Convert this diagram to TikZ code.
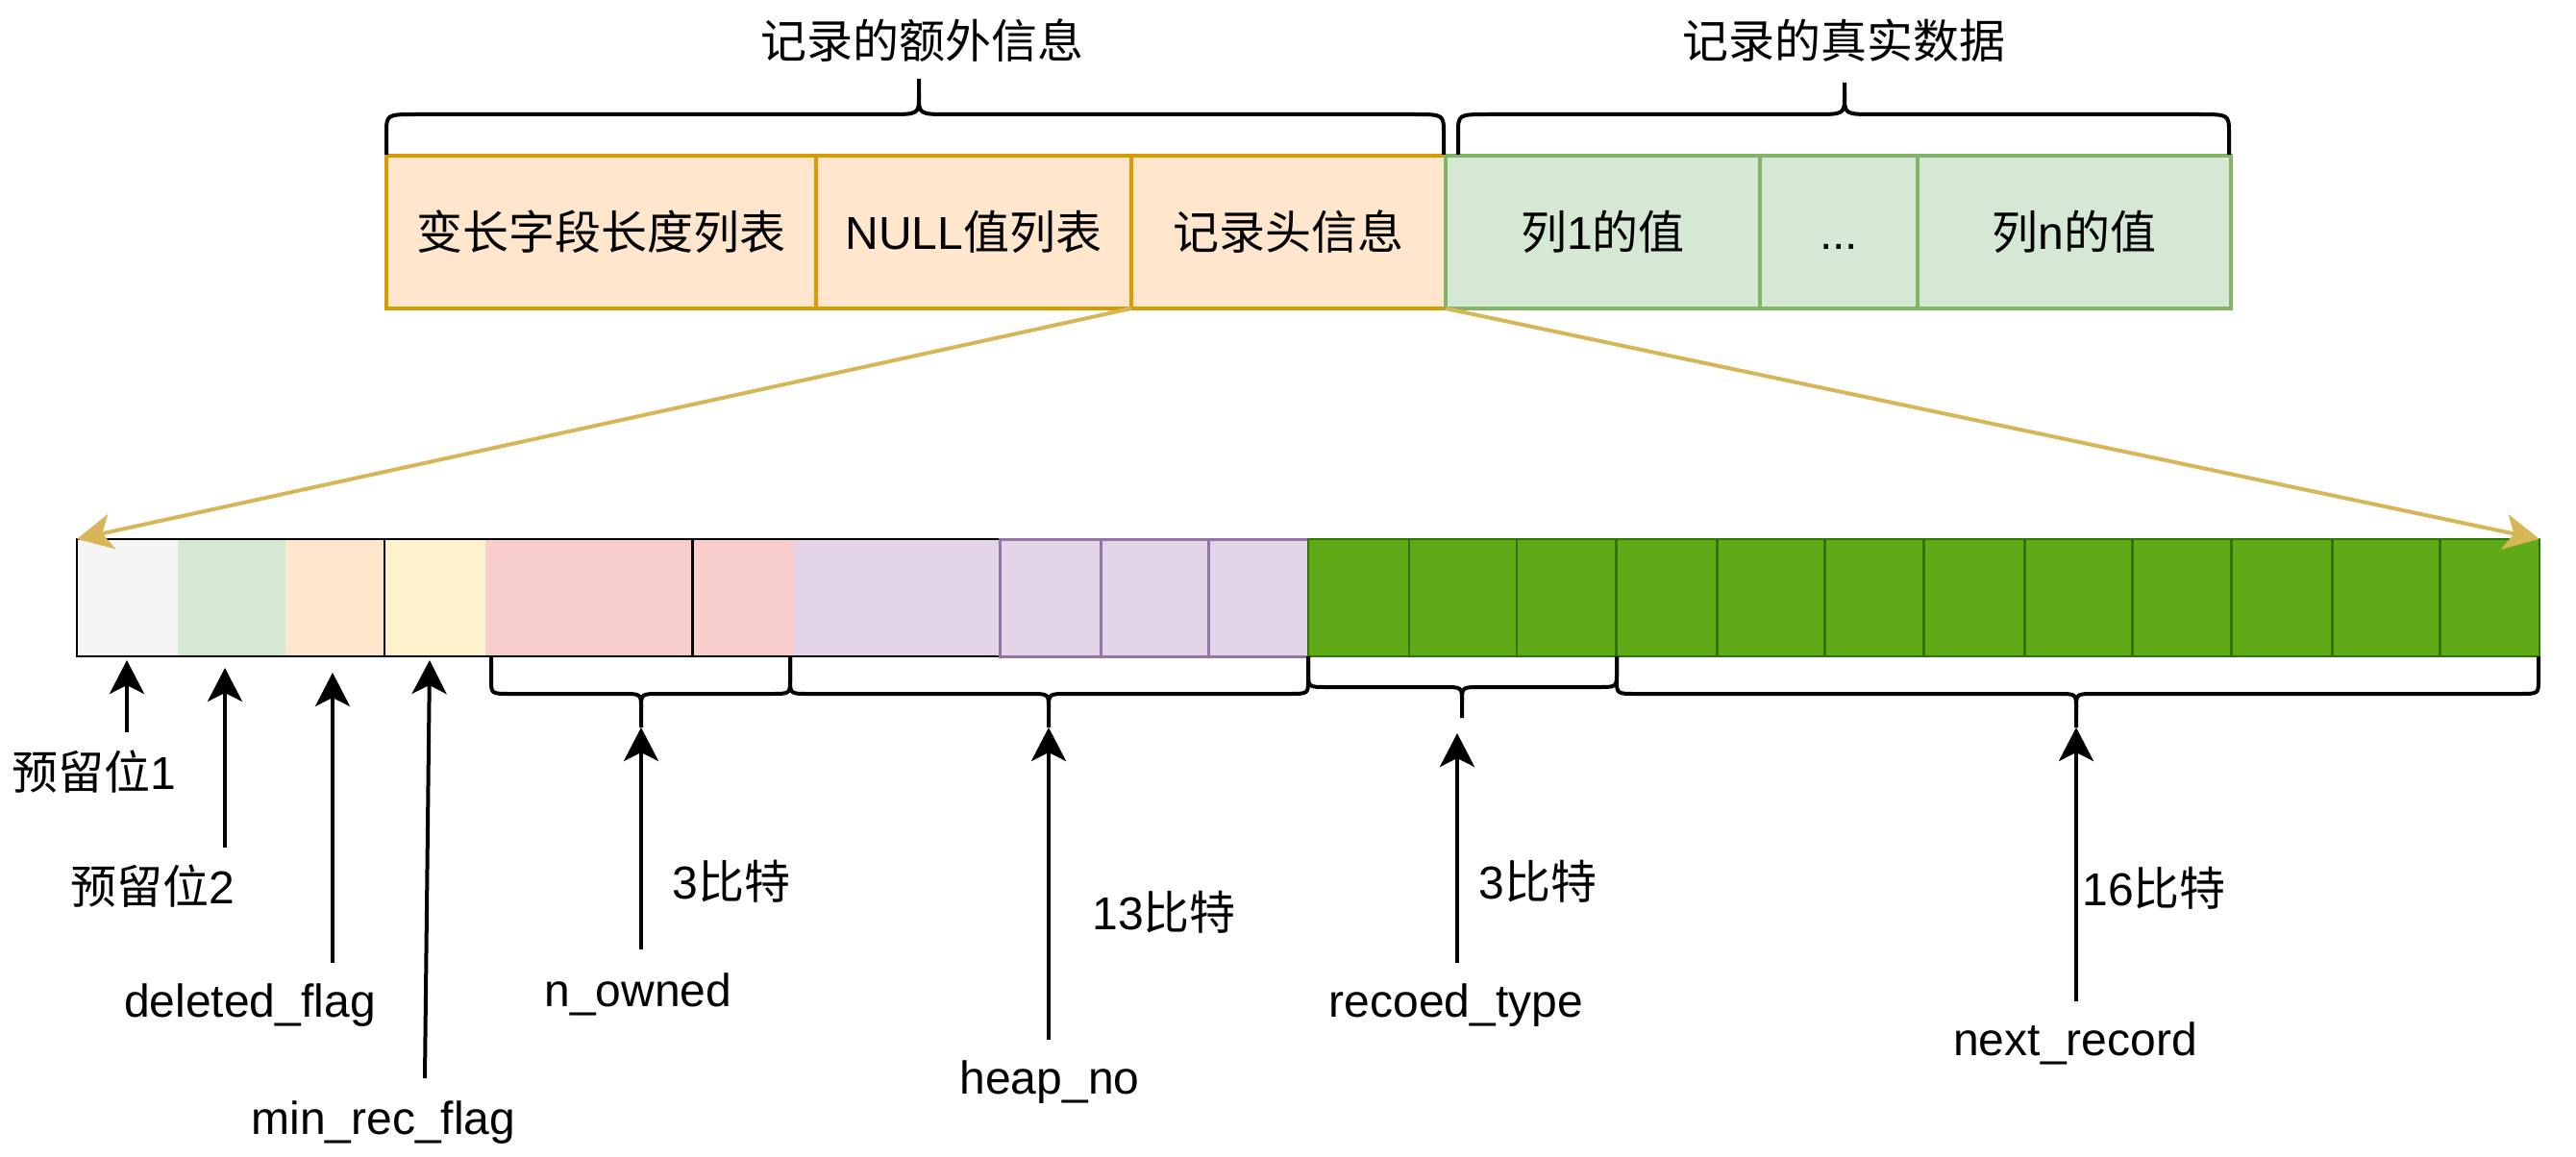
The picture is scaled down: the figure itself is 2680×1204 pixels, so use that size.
\documentclass[tikz,border=0pt]{standalone}
\usepackage{fontspec}
\setmainfont{Liberation Sans}
\newfontfamily\cjk{Noto Sans CJK SC}
\usetikzlibrary{arrows.meta}
\definecolor{orfill}{HTML}{FFE6CC}
\definecolor{ordraw}{HTML}{D79B00}
\definecolor{grfill}{HTML}{D5E8D4}
\definecolor{grdraw}{HTML}{82B366}
\definecolor{greyfill}{HTML}{F5F5F5}
\definecolor{yefill}{HTML}{FFF2CC}
\definecolor{pkfill}{HTML}{F8CECC}
\definecolor{pufill}{HTML}{E1D5E7}
\definecolor{pudraw}{HTML}{9673A6}
\definecolor{dgfill}{HTML}{60A917}
\definecolor{dgdraw}{HTML}{2D7600}
\definecolor{goldline}{HTML}{D6B656}
\newcommand{\mybrace}[8]{%
  \draw[bracestyle] (#1,#4) -- (#1,{#5+#7}) .. controls (#1,#5) .. ({#1+#8},#5) -- ({#3-#8},#5) .. controls (#3,#5) .. (#3,{#5-#7}) -- (#3,#6);
  \draw[bracestyle] (#2,#4) -- (#2,{#5+#7}) .. controls (#2,#5) .. ({#2-#8},#5) -- ({#3+#8},#5) .. controls (#3,#5) .. (#3,{#5-#7});
}
\begin{document}
\begin{tikzpicture}[x=1pt,y=-1pt,
  txt/.style={font=\fontsize{48}{58}\selectfont, inner sep=0pt, text=black},
  lbl/.style={txt, anchor=base},
  topbox/.style={txt, line width=3.3pt, minimum height=159pt, text height=36pt, text depth=0pt, outer sep=0pt},
  cell/.style={inner sep=0pt, outer sep=0pt, minimum height=122pt},
  blackline/.style={line width=2.2pt, black},
  bracestyle/.style={line width=4pt, black, line join=round},
  uparrow/.style={line width=4pt, black, -{Stealth[length=35pt, width=36pt, inset=9pt]}},
  goldarrow/.style={line width=4pt, goldline, -{Stealth[length=37pt, width=37pt, inset=10pt]}}]
\useasboundingbox (0,0) rectangle (2680,1204);

% titles
\node[lbl] (t1) at (959,61) {\cjk 记录的额外信息};
\node[lbl] (t2) at (1918,61) {\cjk 记录的真实数据};

% top boxes
\node[topbox, fill=orfill, draw=ordraw, minimum width=447pt] (b1) at (625.5,241.5) {\cjk 变长字段长度列表};
\node[topbox, fill=orfill, draw=ordraw, minimum width=328pt] (b2) at (1013,241.5) {NULL{\cjk 值列表}};
\node[topbox, fill=orfill, draw=ordraw, minimum width=327pt] (b3) at (1340.5,241.5) {\cjk 记录头信息};
\node[topbox, fill=grfill, draw=grdraw, minimum width=327pt] (b4) at (1667.5,241.5) {{\cjk 列}1{\cjk 的值}};
\node[topbox, fill=grfill, draw=grdraw, minimum width=164pt] (b5) at (1913,241.5) {...};
\node[topbox, fill=grfill, draw=grdraw, minimum width=326pt] (b6) at (2158,241.5) {{\cjk 列}n{\cjk 的值}};

% top braces
\mybrace{402}{1502}{956}{161}{119}{82}{20}{32}
\mybrace{1517}{2319}{1919}{161}{119}{86}{20}{32}

% bit cells (fill only)
\foreach \n/\xa/\xb/\fc in {0/80/185/greyfill, 1/185/297/grfill, 2/297/400.25/orfill, 3/400.25/505.25/yefill, 4/505.25/617.25/pkfill, 5/617.25/720.5/pkfill, 6/720.5/825.5/pkfill, 7/825.5/937.5/pufill, 8/937.5/1040.75/pufill}
  \node[cell, fill=\fc, minimum width={\xb-\xa}] (c\n) at ({(\xa+\xb)/2},622) {};
\draw[blackline] (c0.north west) rectangle (c8.south east);
\draw[blackline] (c3.north west) -- (c3.south west);
\draw[blackline] (c6.north west) -- (c6.south west);
% purple bordered cells
\foreach \n/\xa/\xb in {9/1040.75/1145.75, 10/1145.75/1257.75, 11/1257.75/1361}
  \node[cell, fill=pufill, draw=pudraw, line width=3pt, minimum width={\xb-\xa}] (c\n) at ({(\xa+\xb)/2},622) {};
% green cells
\foreach \n/\xa/\xb in {12/1361/1466, 13/1466/1578, 14/1578/1681.25, 15/1681.25/1786.25, 16/1786.25/1898.25, 17/1898.25/2001.5, 18/2001.5/2106.5, 19/2106.5/2218.5, 20/2218.5/2321.75, 21/2321.75/2426.75, 22/2426.75/2538.75, 23/2538.75/2642}
  \node[cell, fill=dgfill, draw=dgdraw, line width=2.8pt, minimum width={\xb-\xa}] (c\n) at ({(\xa+\xb)/2},622) {};

% zoom lines
\draw[goldarrow] (b3.south west) -- (c0.north west);
\draw[goldarrow] (b4.south west) -- (c23.north east);

% lower braces
\mybrace{511}{822}{667}{683}{722}{757}{-15}{20}
\mybrace{822}{1361}{1091}{683}{722}{757}{-15}{20}
\mybrace{1361}{1682}{1521}{683}{715}{747}{-15}{20}
\mybrace{1682}{2641}{2160}{683}{722}{757}{-15}{20}

% labels
\node[lbl] (l1) at (98,821) {{\cjk 预留位}1};
\node[lbl] (l2) at (159,940) {{\cjk 预留位}2};
\node[lbl] (l3) at (260,1058) {deleted\_flag};
\node[lbl] (l4) at (399,1180) {min\_rec\_flag};
\node[lbl] (l5) at (664,1047) {n\_owned};
\node[lbl] (l6) at (761,935) {3{\cjk 比特}};
\node[lbl] (l7) at (1092,1138) {heap\_no};
\node[lbl] (l8) at (1211,967) {13{\cjk 比特}};
\node[lbl] (l9) at (1515,1058) {recoed\_type};
\node[lbl] (l10) at (1600,935) {3{\cjk 比特}};
\node[lbl] (l11) at (2159,1098) {next\_record};
\node[lbl] (l12) at (2241,942) {16{\cjk 比特}};

% arrow coordinates
\coordinate (s1) at (132,762);  \coordinate (e1) at (132,687);
\coordinate (s2) at (234,882);  \coordinate (e2) at (234,695);
\coordinate (s3) at (346,1002); \coordinate (e3) at (346,700);
\coordinate (s4) at (442,1122); \coordinate (e4) at (447,687);
\coordinate (s5) at (667,988);  \coordinate (e5) at (667,757);
\coordinate (s6) at (1091,1082); \coordinate (e6) at (1091,757);
\coordinate (s7) at (1516,1002); \coordinate (e7) at (1516,763);
\coordinate (s8) at (2160,1042); \coordinate (e8) at (2160,757);
\foreach \k in {1,...,8} \draw[uparrow] (s\k) -- (e\k);
\end{tikzpicture}
\end{document}
